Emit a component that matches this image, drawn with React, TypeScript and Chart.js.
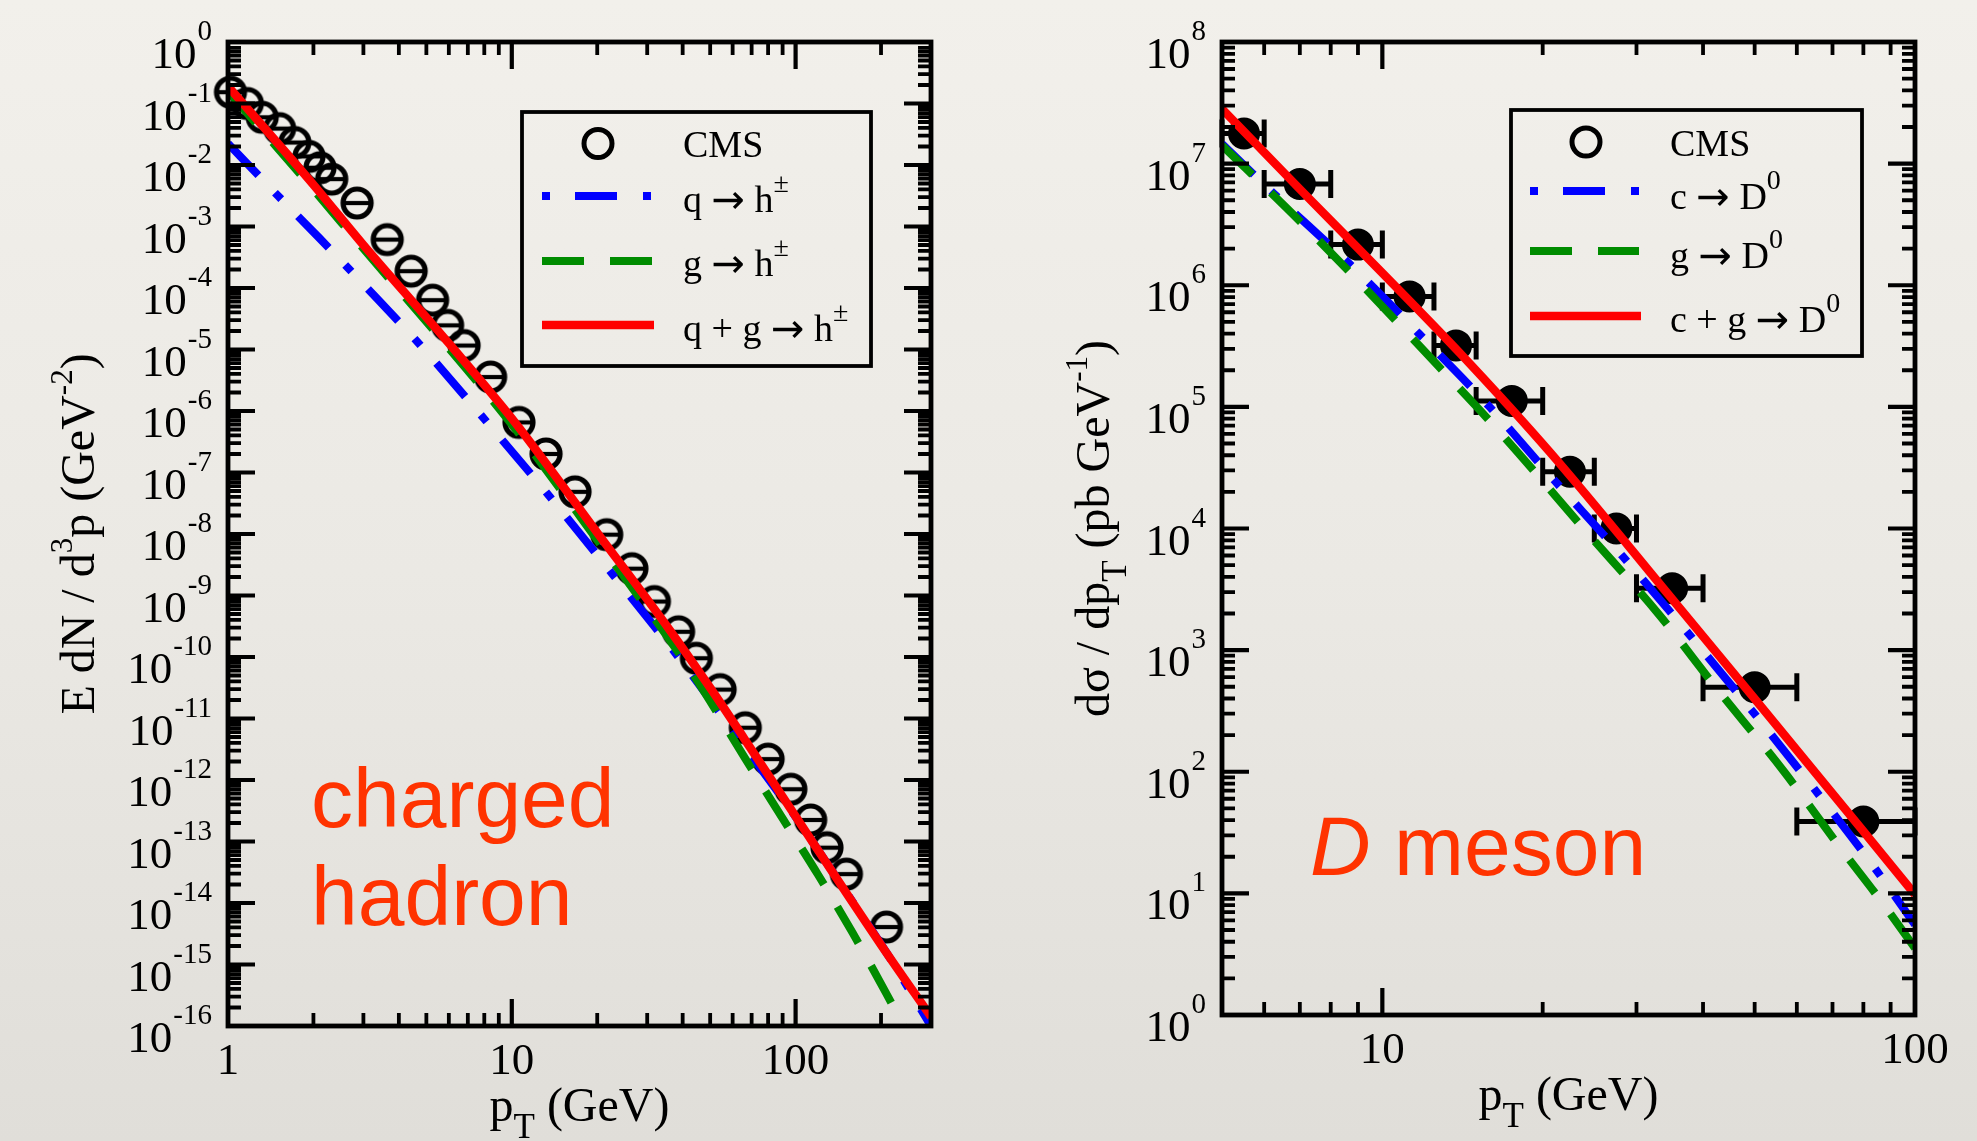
import React, { useEffect, useRef } from 'react';
import { Chart, registerables } from 'chart.js';

Chart.register(...registerables);

// ================= Left panel: charged hadron =================
const hadronCmsPt = [1.02, 1.17, 1.32, 1.52, 1.72, 1.93, 2.11, 2.32, 2.85, 3.64, 4.42, 5.26, 5.94, 6.79, 8.42, 10.6, 13.2, 16.7, 21.6, 26.5, 31.8, 38.7, 44.7, 54.2, 66.5, 80, 96.2, 113, 129, 151, 209];
const hadronCmsYield = [0.153, 0.1, 0.0597, 0.0391, 0.0232, 0.0138, 0.00904, 0.0059, 0.00241, 6.12e-4, 1.88e-4, 6.35e-5, 2.47e-5, 1.16e-5, 3.57e-6, 6.52e-7, 2.0e-7, 4.85e-8, 9.75e-9, 2.73e-9, 7.98e-10, 2.57e-10, 9.55e-11, 2.95e-11, 7.08e-12, 2.19e-12, 7.08e-13, 2.24e-13, 7.94e-14, 2.95e-14, 4.07e-15];

const hadronQuarkPt = [1, 1.5, 2.1, 3, 4.7, 8, 13.6, 22.8, 38.2, 60, 100, 150, 210, 300];
const hadronQuarkYield = [0.0224, 3.16e-3, 6.46e-4, 1.15e-4, 1.26e-5, 7.41e-7, 4.07e-8, 2.14e-9, 1.07e-10, 6.46e-12, 2.51e-13, 1.55e-14, 1.51e-15, 1.0e-16];

const hadronGluonPt = [1, 2, 3, 6, 10, 20, 42.5, 66.4, 89.3, 120, 159, 207, 234, 260];
const hadronGluonYield = [0.158, 3.98e-3, 4.37e-4, 1.05e-5, 6.03e-7, 7.94e-9, 6.17e-11, 2.24e-12, 2.51e-13, 2.88e-14, 3.24e-15, 3.63e-16, 1.26e-16, 5.0e-17];

const hadronTotalPt = [1, 2, 3, 6, 10, 20, 36, 50, 66, 100, 200, 300];
const hadronTotalYield = [0.191, 4.79e-3, 5.01e-4, 1.26e-5, 7.59e-7, 1.05e-8, 2.75e-10, 3.16e-11, 4.68e-12, 2.57e-13, 2.09e-15, 1.41e-16];

const hadronXLabels = [1, 10, 100];
const hadronYExponents = [0, -1, -2, -3, -4, -5, -6, -7, -8, -9, -10, -11, -12, -13, -14, -15, -16];

// ================= Right panel: D meson =================
const dCmsPt = [5.5, 7, 9, 11.25, 13.75, 17.5, 22.5, 27.5, 35, 50, 80];
const dCmsPtLow = [5, 6, 8, 10, 12.5, 15, 20, 25, 30, 40, 60];
const dCmsPtHigh = [6, 8, 10, 12.5, 15, 20, 25, 30, 40, 60, 100];
const dCmsXsec = [1.77e7, 6.8e6, 2.16e6, 8.1e5, 3.2e5, 1.12e5, 2.93e4, 1.0e4, 3.23e3, 495, 39];

const dCharmPt = [5, 6.3, 8.66, 11.7, 15.9, 21, 28.3, 37.5, 49.3, 64.9, 84.1, 100];
const dCharmXsec = [1.45e7, 5.5e6, 1.51e6, 4.02e5, 1.0e5, 2.51e4, 5.86e3, 1.38e3, 322, 71, 16.1, 5.52];

const dGluonPt = [5, 6.97, 9.23, 12.7, 16.7, 24.3, 33.1, 42.4, 56.8, 72.1, 86, 100];
const dGluonXsec = [1.41e7, 3.43e6, 9.7e5, 2.2e5, 6.05e4, 9.14e3, 1.95e3, 486, 100, 24.3, 8.87, 3.55];

const dTotalPt = [5, 7, 10, 14, 20.7, 35, 50, 80, 100];
const dTotalXsec = [2.82e7, 6.17e6, 1.26e6, 2.75e5, 4.17e4, 2.63e3, 398, 32.4, 9.77];

const dXLabels = [10, 100];
const dYExponents = [0, 1, 2, 3, 4, 5, 6, 7, 8];

// ================= styling helpers =================
const SERIF = '"Liberation Serif", "Times New Roman", "DejaVu Serif", serif';
const SANS = '"Liberation Sans", Arial, Helvetica, sans-serif';
const ARROW_FONT = '"DejaVu Sans", "Noto Sans", sans-serif';
const BLUE = '#0000ff';
const GREEN = '#008c00';
const RED = '#ff0000';
const NOTE = '#ff3300';
const BLUE_DASH = [44, 24, 9, 24];
const GREEN_DASH = [42, 26];

type Seg = { t: string; k?: 'sup' | 'sub' | 'arrow' };
type TextStyle = { size: number; supSize: number; rise: number; subSize: number; drop: number };

function segFont(s: Seg, st: TextStyle) {
  if (s.k === 'arrow') return `${Math.round(st.size * 1.05)}px ${ARROW_FONT}`;
  const fs = s.k === 'sup' ? st.supSize : s.k === 'sub' ? st.subSize : st.size;
  return `${fs}px ${SERIF}`;
}

function drawSegs(ctx: CanvasRenderingContext2D, segs: Seg[], x: number, y: number, st: TextStyle, align: 'left' | 'center') {
  const widths = segs.map((s) => {
    ctx.font = segFont(s, st);
    return ctx.measureText(s.t).width;
  });
  const total = widths.reduce((a, b) => a + b, 0);
  let cx = align === 'center' ? x - total / 2 : x;
  ctx.textAlign = 'left';
  ctx.textBaseline = 'alphabetic';
  segs.forEach((s, i) => {
    ctx.font = segFont(s, st);
    const dy = s.k === 'sup' ? -st.rise : s.k === 'sub' ? st.drop : s.k === 'arrow' ? 1 : 0;
    ctx.fillText(s.t, cx, y + dy);
    cx += widths[i];
  });
}

function logTicks(min: number, max: number) {
  const out: { v: number; major: boolean }[] = [];
  const d0 = Math.floor(Math.log10(min));
  const d1 = Math.ceil(Math.log10(max));
  for (let d = d0; d <= d1; d++) {
    for (let m = 1; m <= 9; m++) {
      const v = m * Math.pow(10, d);
      if (v >= min * 0.9999 && v <= max * 1.0001) out.push({ v, major: m === 1 });
    }
  }
  return out;
}

function drawFrameAndTicks(chart: any) {
  const { ctx, chartArea: a } = chart;
  const xs = chart.scales.x;
  const ys = chart.scales.y;
  ctx.save();
  ctx.strokeStyle = '#000';
  ctx.lineCap = 'butt';
  for (const t of logTicks(xs.min, xs.max)) {
    const px = xs.getPixelForValue(t.v);
    if (px < a.left + 3 || px > a.right - 3) continue;
    const len = t.major ? 27 : 13;
    ctx.lineWidth = t.major ? 4.2 : 3.8;
    ctx.beginPath();
    ctx.moveTo(px, a.bottom);
    ctx.lineTo(px, a.bottom - len);
    ctx.moveTo(px, a.top);
    ctx.lineTo(px, a.top + len);
    ctx.stroke();
  }
  for (const t of logTicks(ys.min, ys.max)) {
    const py = ys.getPixelForValue(t.v);
    if (py < a.top + 3 || py > a.bottom - 3) continue;
    const len = t.major ? 27 : 13;
    ctx.lineWidth = t.major ? 4.2 : 3.8;
    ctx.beginPath();
    ctx.moveTo(a.left, py);
    ctx.lineTo(a.left + len, py);
    ctx.moveTo(a.right, py);
    ctx.lineTo(a.right - len, py);
    ctx.stroke();
  }
  ctx.lineWidth = 4.8;
  ctx.strokeRect(a.left, a.top, a.right - a.left, a.bottom - a.top);
  ctx.restore();
}

function drawTickLabels(chart: any, xLabels: number[], yExps: number[]) {
  const { ctx, chartArea: a } = chart;
  const xs = chart.scales.x;
  const ys = chart.scales.y;
  ctx.save();
  ctx.fillStyle = '#000';
  ctx.textBaseline = 'alphabetic';
  for (const e of yExps) {
    const py = ys.getPixelForValue(Math.pow(10, e));
    const base = '10';
    const sup = String(e);
    ctx.font = `45px ${SERIF}`;
    const bw = ctx.measureText(base).width;
    ctx.font = `29px ${SERIF}`;
    const sw = ctx.measureText(sup).width;
    const x0 = a.left - 16 - bw - sw - 1;
    ctx.textAlign = 'left';
    ctx.font = `45px ${SERIF}`;
    ctx.fillText(base, x0, py + 26);
    ctx.font = `29px ${SERIF}`;
    ctx.fillText(sup, x0 + bw + 1, py - 2);
  }
  ctx.font = `45px ${SERIF}`;
  ctx.textAlign = 'center';
  for (const v of xLabels) {
    const px = xs.getPixelForValue(v);
    ctx.fillText(String(v), px, a.bottom + 48);
  }
  ctx.restore();
}

const titleStyle: TextStyle = { size: 48, supSize: 31, rise: 22, subSize: 35, drop: 17 };
const legendStyle: TextStyle = { size: 38, supSize: 28, rise: 20, subSize: 28, drop: 12 };

function drawTitles(chart: any, xTitle: Seg[], yTitle: Seg[], yTitleX: number) {
  const { ctx, chartArea: a } = chart;
  ctx.save();
  ctx.fillStyle = '#000';
  drawSegs(ctx, xTitle, (a.left + a.right) / 2, a.bottom + 95, titleStyle, 'center');
  ctx.translate(yTitleX, (a.top + a.bottom) / 2);
  ctx.rotate(-Math.PI / 2);
  drawSegs(ctx, yTitle, 0, 0, titleStyle, 'center');
  ctx.restore();
}

type LegendCfg = {
  box: [number, number, number, number];
  circle: [number, number];
  x0: number;
  x1: number;
  lineY: [number, number, number];
  textX: number;
  bases: [number, number, number, number];
  labels: Seg[][];
};

function drawLegend(ctx: CanvasRenderingContext2D, L: LegendCfg) {
  ctx.save();
  ctx.strokeStyle = '#000';
  ctx.lineWidth = 3.8;
  ctx.strokeRect(L.box[0], L.box[1], L.box[2] - L.box[0], L.box[3] - L.box[1]);
  ctx.lineWidth = 5;
  ctx.beginPath();
  ctx.arc(L.circle[0], L.circle[1], 14, 0, Math.PI * 2);
  ctx.stroke();
  const sample = (y: number, color: string, dash: number[], w: number, x1: number) => {
    ctx.strokeStyle = color;
    ctx.lineWidth = w;
    ctx.lineCap = 'butt';
    ctx.setLineDash(dash);
    ctx.beginPath();
    ctx.moveTo(L.x0, y);
    ctx.lineTo(x1, y);
    ctx.stroke();
  };
  sample(L.lineY[0], BLUE, [8, 25, 42, 26], 8, L.x1);
  sample(L.lineY[1], GREEN, [42, 26], 8, L.x1);
  sample(L.lineY[2], RED, [], 8.5, L.x1 + 2);
  ctx.setLineDash([]);
  ctx.fillStyle = '#000';
  L.labels.forEach((segs, i) => drawSegs(ctx, segs, L.textX, L.bases[i], legendStyle, 'left'));
  ctx.restore();
}

function makeThetaCircle() {
  const c = document.createElement('canvas');
  c.width = 42;
  c.height = 42;
  const g = c.getContext('2d')!;
  g.strokeStyle = '#000';
  g.lineWidth = 5.2;
  g.beginPath();
  g.arc(21, 21, 14, 0, Math.PI * 2);
  g.stroke();
  g.lineWidth = 4.2;
  g.beginPath();
  g.moveTo(7, 21);
  g.lineTo(35, 21);
  g.stroke();
  return c;
}

const pts = (xs: number[], ys: number[]) => xs.map((x, i) => ({ x, y: ys[i] }));

function lineDataset(label: string, xs: number[], ys: number[], color: string, dash: number[], width: number, order: number) {
  return {
    label,
    data: pts(xs, ys),
    showLine: true,
    borderColor: color,
    backgroundColor: color,
    borderWidth: width,
    borderDash: dash,
    borderCapStyle: 'butt',
    pointRadius: 0,
    pointHoverRadius: 0,
    cubicInterpolationMode: 'monotone',
    fill: false,
    clip: 0,
    order,
  };
}

const arrowLabel = (a: string, b: string, sup: string): Seg[] => [
  { t: a + ' ' },
  { t: '→', k: 'arrow' },
  { t: ' ' + b },
  { t: sup, k: 'sup' },
];

function hadronConfig(): any {
  const decor = {
    id: 'hadronDecor',
    afterDraw(chart: any) {
      const ctx = chart.ctx as CanvasRenderingContext2D;
      ctx.save();
      ctx.fillStyle = NOTE;
      ctx.textAlign = 'left';
      ctx.textBaseline = 'alphabetic';
      ctx.font = `84px ${SANS}`;
      ctx.fillText('charged', 311, 827);
      ctx.fillText('hadron', 311, 925);
      ctx.restore();
      drawFrameAndTicks(chart);
      drawTickLabels(chart, hadronXLabels, hadronYExponents);
      drawTitles(
        chart,
        [{ t: 'p' }, { t: 'T', k: 'sub' }, { t: ' (GeV)' }],
        [{ t: 'E dN / d' }, { t: '3', k: 'sup' }, { t: 'p (GeV' }, { t: '-2', k: 'sup' }, { t: ')' }],
        94
      );
      drawLegend(ctx, {
        box: [522, 112, 871, 366],
        circle: [598, 143.5],
        x0: 542,
        x1: 652,
        lineY: [196, 261, 325],
        textX: 683,
        bases: [157, 212, 276, 341],
        labels: [
          [{ t: 'CMS' }],
          arrowLabel('q', 'h', '±'),
          arrowLabel('g', 'h', '±'),
          arrowLabel('q + g', 'h', '±'),
        ],
      });
    },
  };
  return {
    type: 'scatter',
    data: {
      datasets: [
        lineDataset('q + g → h±', hadronTotalPt, hadronTotalYield, RED, [], 8.5, 1),
        lineDataset('g → h±', hadronGluonPt, hadronGluonYield, GREEN, GREEN_DASH, 8, 2),
        lineDataset('q → h±', hadronQuarkPt, hadronQuarkYield, BLUE, BLUE_DASH, 8, 3),
        {
          label: 'CMS',
          data: pts(hadronCmsPt, hadronCmsYield),
          showLine: false,
          pointStyle: makeThetaCircle(),
          pointRadius: 14,
          pointHoverRadius: 14,
          clip: false,
          order: 4,
        },
      ],
    },
    options: {
      responsive: false,
      animation: false,
      devicePixelRatio: 1,
      events: [],
      layout: { padding: { left: 228, top: 42, right: 49, bottom: 115 } },
      scales: {
        x: { type: 'logarithmic', min: 1, max: 300, display: false },
        y: { type: 'logarithmic', min: 1e-16, max: 1, display: false },
      },
      plugins: { legend: { display: false }, tooltip: { enabled: false } },
    },
    plugins: [decor],
  };
}

function dConfig(): any {
  const decor = {
    id: 'dDecor',
    beforeDatasetsDraw(chart: any) {
      const ctx = chart.ctx as CanvasRenderingContext2D;
      const xs = chart.scales.x;
      const ys = chart.scales.y;
      ctx.save();
      ctx.strokeStyle = '#000';
      ctx.lineWidth = 5;
      ctx.lineCap = 'butt';
      dCmsPt.forEach((_, i) => {
        const xl = xs.getPixelForValue(dCmsPtLow[i]);
        const xh = xs.getPixelForValue(dCmsPtHigh[i]);
        const py = ys.getPixelForValue(dCmsXsec[i]);
        ctx.beginPath();
        ctx.moveTo(xl, py);
        ctx.lineTo(xh, py);
        ctx.moveTo(xl, py - 14);
        ctx.lineTo(xl, py + 14);
        ctx.moveTo(xh, py - 14);
        ctx.lineTo(xh, py + 14);
        ctx.stroke();
      });
      ctx.restore();
    },
    afterDraw(chart: any) {
      const ctx = chart.ctx as CanvasRenderingContext2D;
      ctx.save();
      ctx.fillStyle = NOTE;
      ctx.textAlign = 'left';
      ctx.textBaseline = 'alphabetic';
      ctx.font = `italic 84px ${SANS}`;
      ctx.fillText('D', 330, 875);
      const w = ctx.measureText('D').width;
      ctx.font = `84px ${SANS}`;
      ctx.fillText(' meson', 330 + w, 875);
      ctx.restore();
      drawFrameAndTicks(chart);
      drawTickLabels(chart, dXLabels, dYExponents);
      drawTitles(
        chart,
        [{ t: 'p' }, { t: 'T', k: 'sub' }, { t: ' (GeV)' }],
        [{ t: 'dσ / dp' }, { t: 'T', k: 'sub' }, { t: ' (pb GeV' }, { t: '-1', k: 'sup' }, { t: ')' }],
        129
      );
      drawLegend(ctx, {
        box: [531, 110, 882, 356],
        circle: [606, 142],
        x0: 550,
        x1: 659,
        lineY: [191, 251, 316],
        textX: 690,
        bases: [156, 209, 268, 332],
        labels: [
          [{ t: 'CMS' }],
          arrowLabel('c', 'D', '0'),
          arrowLabel('g', 'D', '0'),
          arrowLabel('c + g', 'D', '0'),
        ],
      });
    },
  };
  return {
    type: 'scatter',
    data: {
      datasets: [
        lineDataset('c + g → D0', dTotalPt, dTotalXsec, RED, [], 8.5, 1),
        lineDataset('g → D0', dGluonPt, dGluonXsec, GREEN, GREEN_DASH, 8, 2),
        lineDataset('c → D0', dCharmPt, dCharmXsec, BLUE, BLUE_DASH, 8, 3),
        {
          label: 'CMS',
          data: pts(dCmsPt, dCmsXsec),
          showLine: false,
          pointStyle: 'circle',
          pointRadius: 14,
          pointHoverRadius: 14,
          borderWidth: 4,
          borderColor: '#000',
          backgroundColor: '#000',
          clip: false,
          order: 4,
        },
      ],
    },
    options: {
      responsive: false,
      animation: false,
      devicePixelRatio: 1,
      events: [],
      layout: { padding: { left: 242, top: 42, right: 62, bottom: 126 } },
      scales: {
        x: { type: 'logarithmic', min: 5, max: 100, display: false },
        y: { type: 'logarithmic', min: 1, max: 1e8, display: false },
      },
      plugins: { legend: { display: false }, tooltip: { enabled: false } },
    },
    plugins: [decor],
  };
}

export default function App() {
  const leftRef = useRef<HTMLCanvasElement>(null);
  const rightRef = useRef<HTMLCanvasElement>(null);
  useEffect(() => {
    const charts: Chart[] = [];
    if (leftRef.current) charts.push(new Chart(leftRef.current, hadronConfig()));
    if (rightRef.current) charts.push(new Chart(rightRef.current, dConfig()));
    return () => charts.forEach((c) => c.destroy());
  }, []);
  return (
    <div
      style={{
        position: 'fixed',
        left: 0,
        top: 0,
        width: 1977,
        height: 1141,
        overflow: 'hidden',
        background: 'linear-gradient(180deg, #f2f0eb 0%, #ebe9e4 50%, #e0ded9 100%)',
      }}
    >
      <canvas ref={leftRef} width={980} height={1141} style={{ position: 'absolute', left: 0, top: 0 }} />
      <canvas ref={rightRef} width={997} height={1141} style={{ position: 'absolute', left: 980, top: 0 }} />
    </div>
  );
}
